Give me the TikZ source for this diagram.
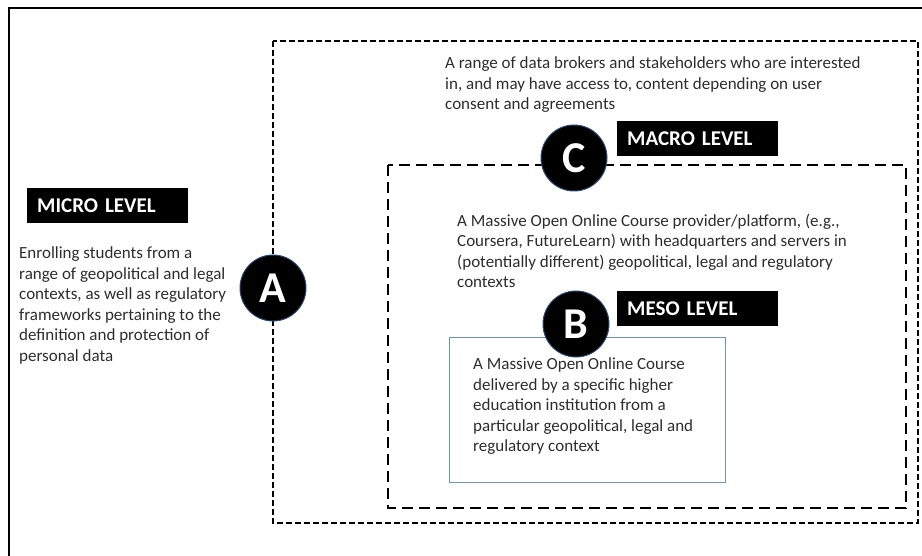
\documentclass[tikz,border=0pt]{standalone}
\usepackage{fontspec}
\setmainfont{Carlito}
\definecolor{boxblue}{RGB}{110,145,195}
\definecolor{ringblue}{RGB}{45,75,115}
\definecolor{bodygray}{RGB}{45,45,45}
\usetikzlibrary{positioning}

\begin{document}
\begin{tikzpicture}[x=1pt, y=-1pt,
  levelbox/.style={fill=black, text=white, anchor=north west, minimum width=161pt, minimum height=35pt,
    text width=141pt, inner xsep=10pt, inner ysep=0pt, align=left, font=\fontsize{21}{23}\selectfont\bfseries},
  badge/.style={circle, fill=black, draw=ringblue, line width=1pt, minimum size=66pt, inner sep=0pt,
    text=white, font=\fontsize{44}{46}\selectfont\bfseries},
  bodytext/.style={anchor=north west, inner sep=0pt, align=left, text=bodygray, font=\fontsize{17}{20.6}\selectfont},
  outerdash/.style={line width=2pt, dash pattern=on 6pt off 3pt},
  innerdash/.style={line width=2.6pt, dash pattern=on 11pt off 6pt}]
  \useasboundingbox (0,0) rectangle (922,556);

  % Frame
  \draw[line width=1.2pt] (9,556) -- (9,8) -- (922,8);

  % Macro and meso areas
  \draw[outerdash] (273,41) rectangle (918,523);
  \draw[innerdash] (388,165) rectangle (906,508);

  % Course box
  \draw[boxblue, line width=1pt] (449,338) rectangle (725,482);

  % Texts
  \node[bodytext] (microtxt) at (19,246.5) {Enrolling students from a\\range of geopolitical and legal\\contexts, as well as regulatory\\frameworks pertaining to the\\definition and protection of\\personal data};
  \node[bodytext] (macrotxt) at (445,56.5) {A range of data brokers and stakeholders who are interested\\in, and may have access to, content depending on user\\consent and agreements};
  \node[bodytext] (mesotxt) at (457,213.5) {A Massive Open Online Course provider/platform, (e.g.,\\Coursera, FutureLearn) with headquarters and servers in\\(potentially different) geopolitical, legal and regulatory\\contexts};
  \node[bodytext] (coursetxt) at (473,357.5) {A Massive Open Online Course\\delivered by a specific higher\\education institution from a\\particular geopolitical, legal and\\regulatory context};

  % Level labels
  \node[levelbox] (micro) at (27,188) {MICRO LEVEL};
  \node[levelbox] (macro) at (617,121) {MACRO LEVEL};
  \node[levelbox] (meso) at (617,291) {MESO LEVEL};

  % Badges
  \node[badge] (A) at (273,288) {A};
  \node[badge] (B) at (576,324) {B};
  \node[badge] (C) at (574,158) {C};
\end{tikzpicture}
\end{document}
